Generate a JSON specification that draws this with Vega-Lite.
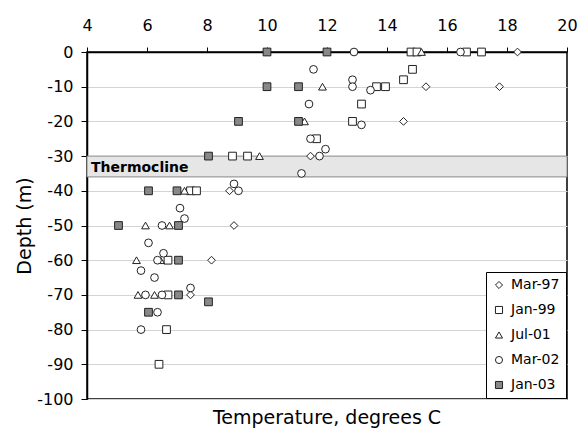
{
  "$schema": "https://vega.github.io/schema/vega-lite/v6.json",
  "autosize": {"type": "none"},
  "width": 480,
  "height": 347,
  "padding": {"left": 87, "top": 52, "right": 21, "bottom": 32},
  "background": "white",
  "config": {
    "font": "DejaVu Sans",
    "view": {"stroke": "#000", "strokeWidth": 1.5},
    "axis": {"labelColor": "#000", "titleColor": "#000", "domainColor": "#000", "tickColor": "#000", "labelFont": "DejaVu Sans", "titleFont": "DejaVu Sans"},
    "axisY": {"values": [0, -10, -20, -30, -40, -50, -60, -70, -80, -90, -100], "labelExpr": "datum.value + ''", "labelOverlap": false, "grid": true, "gridColor": "#d4d4d4", "labelFontSize": 16, "titleFontSize": 19, "titleFontWeight": "normal", "tickSize": 6, "labelPadding": 8, "titlePadding": 2, "domainWidth": 1.5}
  },
  "title": {"text": "Temperature, degrees C", "orient": "bottom", "anchor": "middle", "fontSize": 19, "fontWeight": "normal", "font": "DejaVu Sans", "color": "#000", "offset": 2, "baseline": "top"},
  "datasets": {
    "obs": [
      {"series": "Mar-97", "temp": 18.35, "depth": 0},
      {"series": "Mar-97", "temp": 15.3, "depth": -10},
      {"series": "Mar-97", "temp": 17.75, "depth": -10},
      {"series": "Mar-97", "temp": 14.55, "depth": -20},
      {"series": "Mar-97", "temp": 11.45, "depth": -30},
      {"series": "Mar-97", "temp": 8.75, "depth": -40},
      {"series": "Mar-97", "temp": 8.9, "depth": -50},
      {"series": "Mar-97", "temp": 8.15, "depth": -60},
      {"series": "Mar-97", "temp": 7.45, "depth": -70},
      {"series": "Jan-99", "temp": 14.8, "depth": 0},
      {"series": "Jan-99", "temp": 15.0, "depth": 0},
      {"series": "Jan-99", "temp": 16.65, "depth": 0},
      {"series": "Jan-99", "temp": 17.15, "depth": 0},
      {"series": "Jan-99", "temp": 14.85, "depth": -5},
      {"series": "Jan-99", "temp": 14.55, "depth": -8},
      {"series": "Jan-99", "temp": 13.65, "depth": -10},
      {"series": "Jan-99", "temp": 13.95, "depth": -10},
      {"series": "Jan-99", "temp": 13.15, "depth": -15},
      {"series": "Jan-99", "temp": 12.85, "depth": -20},
      {"series": "Jan-99", "temp": 11.65, "depth": -25},
      {"series": "Jan-99", "temp": 8.85, "depth": -30},
      {"series": "Jan-99", "temp": 9.35, "depth": -30},
      {"series": "Jan-99", "temp": 7.45, "depth": -40},
      {"series": "Jan-99", "temp": 7.65, "depth": -40},
      {"series": "Jan-99", "temp": 6.7, "depth": -60},
      {"series": "Jan-99", "temp": 6.7, "depth": -70},
      {"series": "Jan-99", "temp": 6.65, "depth": -80},
      {"series": "Jan-99", "temp": 6.4, "depth": -90},
      {"series": "Jul-01", "temp": 15.15, "depth": 0},
      {"series": "Jul-01", "temp": 11.85, "depth": -10},
      {"series": "Jul-01", "temp": 11.25, "depth": -20},
      {"series": "Jul-01", "temp": 9.75, "depth": -30},
      {"series": "Jul-01", "temp": 7.25, "depth": -40},
      {"series": "Jul-01", "temp": 5.95, "depth": -50},
      {"series": "Jul-01", "temp": 6.75, "depth": -50},
      {"series": "Jul-01", "temp": 5.65, "depth": -60},
      {"series": "Jul-01", "temp": 6.45, "depth": -60},
      {"series": "Jul-01", "temp": 5.7, "depth": -70},
      {"series": "Jul-01", "temp": 6.25, "depth": -70},
      {"series": "Mar-02", "temp": 12.9, "depth": 0},
      {"series": "Mar-02", "temp": 16.45, "depth": 0},
      {"series": "Mar-02", "temp": 11.55, "depth": -5},
      {"series": "Mar-02", "temp": 12.85, "depth": -8},
      {"series": "Mar-02", "temp": 12.85, "depth": -10},
      {"series": "Mar-02", "temp": 13.45, "depth": -11},
      {"series": "Mar-02", "temp": 11.4, "depth": -15},
      {"series": "Mar-02", "temp": 13.15, "depth": -21},
      {"series": "Mar-02", "temp": 11.45, "depth": -25},
      {"series": "Mar-02", "temp": 11.95, "depth": -28},
      {"series": "Mar-02", "temp": 11.75, "depth": -30},
      {"series": "Mar-02", "temp": 11.15, "depth": -35},
      {"series": "Mar-02", "temp": 8.9, "depth": -38},
      {"series": "Mar-02", "temp": 9.05, "depth": -40},
      {"series": "Mar-02", "temp": 7.1, "depth": -45},
      {"series": "Mar-02", "temp": 7.25, "depth": -48},
      {"series": "Mar-02", "temp": 6.5, "depth": -50},
      {"series": "Mar-02", "temp": 6.05, "depth": -55},
      {"series": "Mar-02", "temp": 6.55, "depth": -58},
      {"series": "Mar-02", "temp": 6.35, "depth": -60},
      {"series": "Mar-02", "temp": 5.8, "depth": -63},
      {"series": "Mar-02", "temp": 6.25, "depth": -65},
      {"series": "Mar-02", "temp": 7.45, "depth": -68},
      {"series": "Mar-02", "temp": 5.95, "depth": -70},
      {"series": "Mar-02", "temp": 6.5, "depth": -70},
      {"series": "Mar-02", "temp": 6.35, "depth": -75},
      {"series": "Mar-02", "temp": 5.8, "depth": -80},
      {"series": "Jan-03", "temp": 10.0, "depth": 0},
      {"series": "Jan-03", "temp": 12.0, "depth": 0},
      {"series": "Jan-03", "temp": 10.0, "depth": -10},
      {"series": "Jan-03", "temp": 11.05, "depth": -10},
      {"series": "Jan-03", "temp": 9.05, "depth": -20},
      {"series": "Jan-03", "temp": 11.05, "depth": -20},
      {"series": "Jan-03", "temp": 8.05, "depth": -30},
      {"series": "Jan-03", "temp": 6.05, "depth": -40},
      {"series": "Jan-03", "temp": 7.0, "depth": -40},
      {"series": "Jan-03", "temp": 5.05, "depth": -50},
      {"series": "Jan-03", "temp": 7.05, "depth": -50},
      {"series": "Jan-03", "temp": 7.05, "depth": -60},
      {"series": "Jan-03", "temp": 7.05, "depth": -70},
      {"series": "Jan-03", "temp": 8.05, "depth": -72},
      {"series": "Jan-03", "temp": 6.05, "depth": -75}
    ],
    "band": [{"top": -30, "bottom": -36, "label": "Thermocline", "temp": 4, "mid": -33}]
  },
  "layer": [
    {
      "data": {"name": "band"},
      "mark": {"type": "rect", "fill": "#e6e6e6", "stroke": "#888", "strokeWidth": 1},
      "encoding": {
        "y": {"field": "top", "type": "quantitative", "scale": {"domain": [-100, 0], "nice": false, "zero": false}, "title": "Depth (m)"},
        "y2": {"field": "bottom"}
      }
    },
    {
      "data": {"name": "band"},
      "mark": {"type": "text", "align": "left", "baseline": "middle", "dx": 4, "dy": 1, "fontSize": 14, "fontWeight": "bold", "font": "DejaVu Sans", "color": "#000"},
      "encoding": {
        "x": {"field": "temp", "type": "quantitative", "scale": {"domain": [4, 20], "nice": false, "zero": false}},
        "y": {"field": "mid", "type": "quantitative", "title": "Depth (m)"},
        "text": {"field": "label"}
      }
    },
    {
      "data": {"name": "obs"},
      "mark": {"type": "point", "filled": true, "stroke": "#222", "strokeWidth": 1, "size": 60, "opacity": 1},
      "encoding": {
        "x": {"field": "temp", "type": "quantitative", "scale": {"domain": [4, 20], "nice": false, "zero": false},
          "axis": {"orient": "top", "title": null, "values": [4,5,6,7,8,9,10,11,12,13,14,15,16,17,18,19,20], "labelExpr": "datum.value % 2 == 0 ? datum.label : ''", "labelOverlap": false, "grid": false, "labelFontSize": 16, "tickSize": 5, "labelPadding": 14, "domainWidth": 1.5, "labelFlush": false}},
        "y": {"field": "depth", "type": "quantitative", "scale": {"domain": [-100, 0], "nice": false, "zero": false}, "title": "Depth (m)"},
        "shape": {"field": "series", "type": "nominal", "title": null,
          "scale": {"domain": ["Mar-97", "Jan-99", "Jul-01", "Mar-02", "Jan-03"], "range": ["diamond", "square", "triangle-up", "circle", "square"]},
          "legend": {"orient": "bottom-right", "offset": 1, "strokeColor": "#000", "fillColor": "white", "padding": 6, "labelFontSize": 14, "labelFont": "DejaVu Sans", "labelColor": "#000", "symbolSize": 50, "rowPadding": 11, "symbolStrokeWidth": 1, "labelOffset": 5, "symbolOpacity": 1}},
        "fill": {"field": "series", "type": "nominal",
          "scale": {"domain": ["Mar-97", "Jan-99", "Jul-01", "Mar-02", "Jan-03"], "range": ["white", "white", "white", "white", "#888888"]}}
      }
    }
  ]
}
